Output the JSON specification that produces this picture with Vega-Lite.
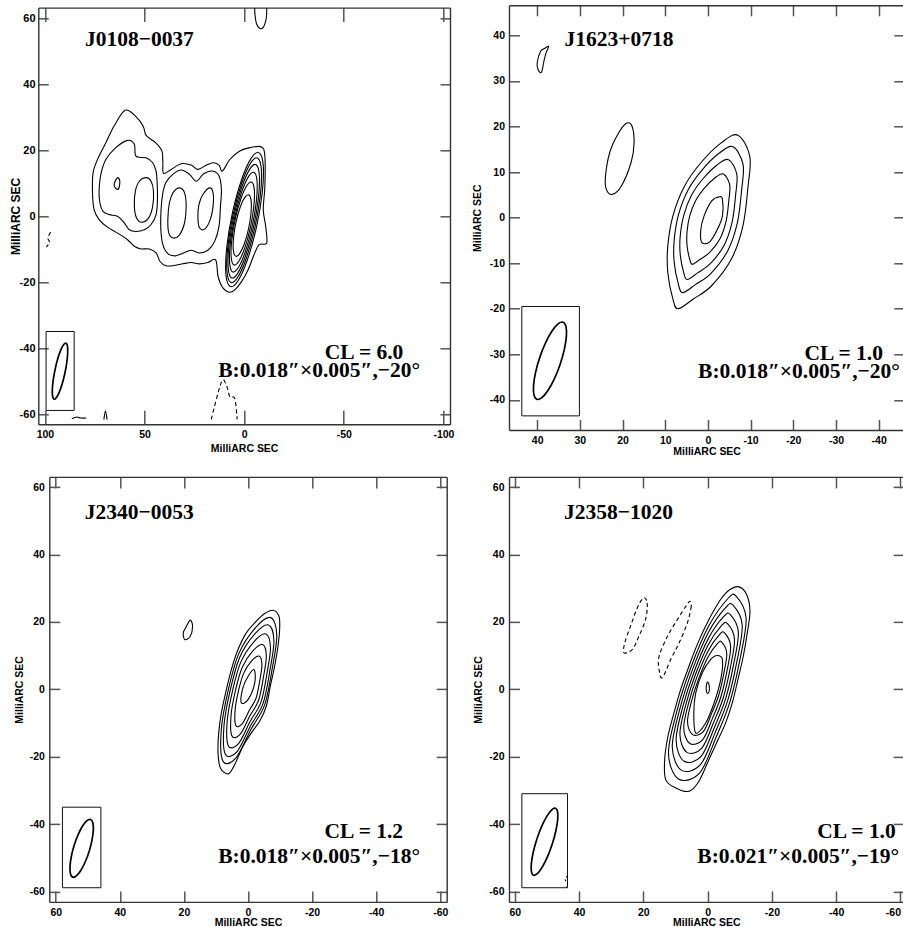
{
"$schema": "https://vega.github.io/schema/vega-lite/v6.json",
"background": "white",
"padding": {"left": 8.3, "top": 4.3, "right": 0, "bottom": 0},
"config": {
 "view": {"stroke": null},
 "axis": {"domainColor": "#333", "domainWidth": 1.4, "tickColor": "#555", "tickWidth": 1.5, "labelFont": "Liberation Sans", "labelFontWeight": "bold", "labelFontSize": 10.5, "labelColor": "#000", "titleFont": "Liberation Sans", "titleFontWeight": "bold", "titleFontSize": 10.5, "titleColor": "#000", "grid": false, "labelOverlap": false, "labelFlush": false}
},
"datasets": {
 "p1r": [
  {"c":"a","o":0,"x":59.7,"y":32.1},{"c":"a","o":1,"x":54.3,"y":30.2},{"c":"a","o":2,"x":50.6,"y":27.2},{"c":"a","o":3,"x":49.2,"y":24.5},{"c":"a","o":4,"x":44.5,"y":22.3},{"c":"a","o":5,"x":41.3,"y":19.8},{"c":"a","o":6,"x":40.8,"y":16.2},{"c":"a","o":7,"x":40.5,"y":13.0},{"c":"a","o":8,"x":36.6,"y":14.2},{"c":"a","o":9,"x":31.6,"y":15.9},{"c":"a","o":10,"x":26.6,"y":15.5},{"c":"a","o":11,"x":23.2,"y":14.2},{"c":"a","o":12,"x":19.0,"y":15.5},{"c":"a","o":13,"x":15.6,"y":16.2},{"c":"a","o":14,"x":12.6,"y":15.5},{"c":"a","o":15,"x":10.9,"y":13.7},{"c":"a","o":16,"x":7.2,"y":17.2},{"c":"a","o":17,"x":2.2,"y":19.8},{"c":"a","o":18,"x":-2.9,"y":20.8},{"c":"a","o":19,"x":-8.7,"y":21.0},{"c":"a","o":20,"x":-10.4,"y":18.2},{"c":"a","o":21,"x":-10.4,"y":9.1},{"c":"a","o":22,"x":-9.6,"y":2.0},{"c":"a","o":23,"x":-10.8,"y":-3.0},{"c":"a","o":24,"x":-11.3,"y":-8.1},{"c":"a","o":25,"x":-7.6,"y":-8.6},{"c":"a","o":26,"x":-4.9,"y":-11.7},{"c":"a","o":27,"x":-2.0,"y":-16.2},{"c":"a","o":28,"x":1.3,"y":-19.8},{"c":"a","o":29,"x":4.7,"y":-22.3},{"c":"a","o":30,"x":7.6,"y":-23.0},{"c":"a","o":31,"x":10.9,"y":-21.5},{"c":"a","o":32,"x":13.1,"y":-18.2},{"c":"a","o":33,"x":14.3,"y":-13.2},{"c":"a","o":34,"x":18.2,"y":-14.0},{"c":"a","o":35,"x":22.4,"y":-14.4},{"c":"a","o":36,"x":26.6,"y":-14.0},{"c":"a","o":37,"x":30.8,"y":-14.4},{"c":"a","o":38,"x":35.0,"y":-14.9},{"c":"a","o":39,"x":39.2,"y":-15.0},{"c":"a","o":40,"x":42.2,"y":-13.7},{"c":"a","o":41,"x":44.2,"y":-11.1},{"c":"a","o":42,"x":47.6,"y":-9.9},{"c":"a","o":43,"x":51.8,"y":-9.9},{"c":"a","o":44,"x":55.1,"y":-9.1},{"c":"a","o":45,"x":58.5,"y":-7.1},{"c":"a","o":46,"x":63.5,"y":-5.1},{"c":"a","o":47,"x":68.6,"y":-3.3},{"c":"a","o":48,"x":72.8,"y":-1.0},{"c":"a","o":49,"x":75.3,"y":2.0},{"c":"a","o":50,"x":76.1,"y":7.1},{"c":"a","o":51,"x":75.8,"y":13.2},{"c":"a","o":52,"x":73.6,"y":17.2},{"c":"a","o":53,"x":69.4,"y":22.3},{"c":"a","o":54,"x":65.2,"y":27.4},
  {"c":"b","o":0,"x":58.5,"y":23.0},{"c":"b","o":1,"x":55.1,"y":21.8},{"c":"b","o":2,"x":54.3,"y":18.2},{"c":"b","o":3,"x":49.2,"y":17.7},{"c":"b","o":4,"x":45.9,"y":16.2},{"c":"b","o":5,"x":44.2,"y":13.7},{"c":"b","o":6,"x":43.7,"y":10.6},{"c":"b","o":7,"x":43.5,"y":5.1},{"c":"b","o":8,"x":44.2,"y":0.5},{"c":"b","o":9,"x":46.7,"y":-2.5},{"c":"b","o":10,"x":50.1,"y":-4.1},{"c":"b","o":11,"x":54.3,"y":-4.6},{"c":"b","o":12,"x":57.6,"y":-4.1},{"c":"b","o":13,"x":60.2,"y":-2.0},{"c":"b","o":14,"x":63.5,"y":0.0},{"c":"b","o":15,"x":67.7,"y":0.5},{"c":"b","o":16,"x":70.8,"y":1.5},{"c":"b","o":17,"x":72.4,"y":4.1},{"c":"b","o":18,"x":72.8,"y":7.6},{"c":"b","o":19,"x":71.9,"y":12.7},{"c":"b","o":20,"x":69.4,"y":17.2},{"c":"b","o":21,"x":64.4,"y":20.8},
  {"c":"d","o":0,"x":49.2,"y":11.7},{"c":"d","o":1,"x":46.7,"y":10.6},{"c":"d","o":2,"x":45.5,"y":7.6},{"c":"d","o":3,"x":45.9,"y":3.0},{"c":"d","o":4,"x":47.9,"y":-0.5},{"c":"d","o":5,"x":51.3,"y":-1.8},{"c":"d","o":6,"x":54.0,"y":-0.5},{"c":"d","o":7,"x":55.1,"y":3.0},{"c":"d","o":8,"x":54.6,"y":7.6},{"c":"d","o":9,"x":52.6,"y":10.6},
  {"c":"e","o":0,"x":63.5,"y":11.7},{"c":"e","o":1,"x":62.4,"y":10.6},{"c":"e","o":2,"x":63.0,"y":8.3},{"c":"e","o":3,"x":64.7,"y":8.6},{"c":"e","o":4,"x":65.2,"y":9.9},
  {"c":"f","o":0,"x":39.2,"y":10.3},{"c":"f","o":1,"x":35.8,"y":12.7},{"c":"f","o":2,"x":31.6,"y":14.0},{"c":"f","o":3,"x":27.4,"y":12.7},{"c":"f","o":4,"x":24.0,"y":10.6},{"c":"f","o":5,"x":20.3,"y":12.9},{"c":"f","o":6,"x":16.0,"y":13.7},{"c":"f","o":7,"x":12.6,"y":12.2},{"c":"f","o":8,"x":11.4,"y":8.1},{"c":"f","o":9,"x":11.9,"y":3.0},{"c":"f","o":10,"x":12.6,"y":-3.0},{"c":"f","o":11,"x":14.8,"y":-7.6},{"c":"f","o":12,"x":18.2,"y":-10.3},{"c":"f","o":13,"x":22.7,"y":-11.1},{"c":"f","o":14,"x":26.6,"y":-10.3},{"c":"f","o":15,"x":30.4,"y":-11.1},{"c":"f","o":16,"x":34.5,"y":-12.0},{"c":"f","o":17,"x":38.3,"y":-11.3},{"c":"f","o":18,"x":40.8,"y":-8.6},{"c":"f","o":19,"x":41.8,"y":-4.1},{"c":"f","o":20,"x":41.7,"y":2.0},{"c":"f","o":21,"x":40.8,"y":7.1},
  {"c":"g","o":0,"x":32.4,"y":8.6},{"c":"g","o":1,"x":29.9,"y":7.1},{"c":"g","o":2,"x":29.1,"y":3.0},{"c":"g","o":3,"x":29.9,"y":-2.0},{"c":"g","o":4,"x":32.4,"y":-5.6},{"c":"g","o":5,"x":35.5,"y":-6.6},{"c":"g","o":6,"x":37.8,"y":-5.1},{"c":"g","o":7,"x":38.3,"y":-1.0},{"c":"g","o":8,"x":37.5,"y":4.1},{"c":"g","o":9,"x":35.5,"y":7.3},
  {"c":"h","o":0,"x":17.3,"y":8.6},{"c":"h","o":1,"x":15.6,"y":7.1},{"c":"h","o":2,"x":15.6,"y":3.0},{"c":"h","o":3,"x":17.0,"y":-1.0},{"c":"h","o":4,"x":19.8,"y":-3.9},{"c":"h","o":5,"x":22.4,"y":-3.5},{"c":"h","o":6,"x":23.2,"y":-0.5},{"c":"h","o":7,"x":22.7,"y":3.5},{"c":"h","o":8,"x":20.7,"y":6.6},
  {"c":"k2","o":0,"x":-7.55,"y":19.21},{"c":"k2","o":1,"x":-3.56,"y":17.60},{"c":"k2","o":2,"x":1.33,"y":11.00},{"c":"k2","o":3,"x":5.82,"y":1.19},{"c":"k2","o":4,"x":8.69,"y":-9.21},{"c":"k2","o":5,"x":9.18,"y":-17.41},{"c":"k2","o":6,"x":7.15,"y":-21.21},{"c":"k2","o":7,"x":3.16,"y":-19.60},{"c":"k2","o":8,"x":-1.73,"y":-13.00},{"c":"k2","o":9,"x":-6.22,"y":-3.19},{"c":"k2","o":10,"x":-9.09,"y":7.21},{"c":"k2","o":11,"x":-9.58,"y":15.41},
  {"c":"k3","o":0,"x":-6.84,"y":17.60},{"c":"k3","o":1,"x":-3.20,"y":16.07},{"c":"k3","o":2,"x":1.30,"y":9.92},{"c":"k3","o":3,"x":5.45,"y":0.78},{"c":"k3","o":4,"x":8.14,"y":-8.88},{"c":"k3","o":5,"x":8.65,"y":-16.49},{"c":"k3","o":6,"x":6.84,"y":-20.00},{"c":"k3","o":7,"x":3.20,"y":-18.47},{"c":"k3","o":8,"x":-1.30,"y":-12.32},{"c":"k3","o":9,"x":-5.45,"y":-3.18},{"c":"k3","o":10,"x":-8.14,"y":6.48},{"c":"k3","o":11,"x":-8.65,"y":14.09},
  {"c":"k4","o":0,"x":-6.02,"y":15.61},{"c":"k4","o":1,"x":-2.75,"y":14.21},{"c":"k4","o":2,"x":1.32,"y":8.59},{"c":"k4","o":3,"x":5.09,"y":0.28},{"c":"k4","o":4,"x":7.55,"y":-8.51},{"c":"k4","o":5,"x":8.03,"y":-15.43},{"c":"k4","o":6,"x":6.42,"y":-18.61},{"c":"k4","o":7,"x":3.15,"y":-17.21},{"c":"k4","o":8,"x":-0.92,"y":-11.59},{"c":"k4","o":9,"x":-4.69,"y":-3.28},{"c":"k4","o":10,"x":-7.15,"y":5.51},{"c":"k4","o":11,"x":-7.63,"y":12.43},
  {"c":"k5","o":0,"x":-5.07,"y":13.24},{"c":"k5","o":1,"x":-2.18,"y":12.01},{"c":"k5","o":2,"x":1.41,"y":7.08},{"c":"k5","o":3,"x":4.72,"y":-0.23},{"c":"k5","o":4,"x":6.88,"y":-7.96},{"c":"k5","o":5,"x":7.30,"y":-14.04},{"c":"k5","o":6,"x":5.87,"y":-16.84},{"c":"k5","o":7,"x":2.98,"y":-15.61},{"c":"k5","o":8,"x":-0.61,"y":-10.68},{"c":"k5","o":9,"x":-3.92,"y":-3.37},{"c":"k5","o":10,"x":-6.08,"y":4.36},{"c":"k5","o":11,"x":-6.50,"y":10.44},
  {"c":"k6","o":0,"x":-3.85,"y":10.30},{"c":"k6","o":1,"x":-1.36,"y":9.31},{"c":"k6","o":2,"x":1.68,"y":5.24},{"c":"k6","o":3,"x":4.46,"y":-0.83},{"c":"k6","o":4,"x":6.23,"y":-7.27},{"c":"k6","o":5,"x":6.52,"y":-12.34},{"c":"k6","o":6,"x":5.25,"y":-14.70},{"c":"k6","o":7,"x":2.76,"y":-13.71},{"c":"k6","o":8,"x":-0.28,"y":-9.64},{"c":"k6","o":9,"x":-3.06,"y":-3.57},{"c":"k6","o":10,"x":-4.83,"y":2.87},{"c":"k6","o":11,"x":-5.12,"y":7.94},
  {"c":"k7","o":0,"x":-2.42,"y":6.46},{"c":"k7","o":1,"x":-0.42,"y":5.78},{"c":"k7","o":2,"x":1.95,"y":2.81},{"c":"k7","o":3,"x":4.05,"y":-1.67},{"c":"k7","o":4,"x":5.32,"y":-6.45},{"c":"k7","o":5,"x":5.42,"y":-10.25},{"c":"k7","o":6,"x":4.32,"y":-12.06},{"c":"k7","o":7,"x":2.32,"y":-11.38},{"c":"k7","o":8,"x":-0.05,"y":-8.41},{"c":"k7","o":9,"x":-2.15,"y":-3.93},{"c":"k7","o":10,"x":-3.42,"y":0.85},{"c":"k7","o":11,"x":-3.52,"y":4.65}
 ],
 "p1a": [
  {"c":"u","o":0,"x":-5.3,"y":63.1},{"c":"u","o":1,"x":-5.4,"y":61.3},{"c":"u","o":2,"x":-6.2,"y":58.3},{"c":"u","o":3,"x":-7.9,"y":56.9},{"c":"u","o":4,"x":-9.6,"y":57.2},{"c":"u","o":5,"x":-10.9,"y":59.3},{"c":"u","o":6,"x":-11.3,"y":61.3},{"c":"u","o":7,"x":-11.3,"y":63.1},
  {"c":"s","o":0,"x":86.5,"y":-61.3},{"c":"s","o":1,"x":84.0,"y":-60.8},{"c":"s","o":2,"x":82.0,"y":-61.1},{"c":"s","o":3,"x":79.2,"y":-61.1},
  {"c":"v","o":0,"x":70.4,"y":-61.6},{"c":"v","o":1,"x":69.6,"y":-59.0},{"c":"v","o":2,"x":68.8,"y":-61.6}
 ],
 "p1n": [
  {"c":"l","o":0,"x":97.1,"y":-4.8},{"c":"l","o":1,"x":98.5,"y":-6.6},{"c":"l","o":2,"x":97.6,"y":-7.9},{"c":"l","o":3,"x":99.3,"y":-9.3},
  {"c":"w","o":0,"x":16.5,"y":-61.5},{"c":"w","o":1,"x":11.4,"y":-50.2},{"c":"w","o":2,"x":8.9,"y":-51.2},{"c":"w","o":3,"x":7.2,"y":-54.7},{"c":"w","o":4,"x":4.7,"y":-55.2},{"c":"w","o":5,"x":3.5,"y":-61.5}
 ],
 "p1b": [
  {"o":0,"x":89.32,"y":-38.44},{"o":1,"x":90.45,"y":-38.76},{"o":2,"x":91.88,"y":-40.32},{"o":3,"x":93.39,"y":-42.87},{"o":4,"x":94.75,"y":-46.05},{"o":5,"x":95.75,"y":-49.35},{"o":6,"x":96.24,"y":-52.28},{"o":7,"x":96.15,"y":-54.39},{"o":8,"x":95.48,"y":-55.36},{"o":9,"x":94.35,"y":-55.04},{"o":10,"x":92.92,"y":-53.49},{"o":11,"x":91.41,"y":-50.93},{"o":12,"x":90.05,"y":-47.76},{"o":13,"x":89.05,"y":-44.45},{"o":14,"x":88.56,"y":-41.52},{"o":15,"x":88.65,"y":-39.41}
 ],
 "p2r": [
  {"c":"c1","o":0,"x":-7.0,"y":18.1},{"c":"c1","o":1,"x":-9.8,"y":13.5},{"c":"c1","o":2,"x":-9.4,"y":6.9},{"c":"c1","o":3,"x":-8.2,"y":-1.8},{"c":"c1","o":4,"x":-5.5,"y":-9.1},{"c":"c1","o":5,"x":-0.8,"y":-15.0},{"c":"c1","o":6,"x":3.5,"y":-17.9},{"c":"c1","o":7,"x":7.0,"y":-20.0},{"c":"c1","o":8,"x":8.2,"y":-17.9},{"c":"c1","o":9,"x":9.4,"y":-12.1},{"c":"c1","o":10,"x":9.4,"y":-6.2},{"c":"c1","o":11,"x":8.2,"y":0.4},{"c":"c1","o":12,"x":5.5,"y":6.9},{"c":"c1","o":13,"x":1.6,"y":12.1},{"c":"c1","o":14,"x":-3.1,"y":16.4},
  {"c":"c2","o":0,"x":-5.88,"y":15.54},{"c":"c2","o":1,"x":-8.23,"y":11.68},{"c":"c2","o":2,"x":-7.90,"y":6.14},{"c":"c2","o":3,"x":-6.89,"y":-1.17},{"c":"c2","o":4,"x":-4.62,"y":-7.30},{"c":"c2","o":5,"x":-0.67,"y":-12.26},{"c":"c2","o":6,"x":2.94,"y":-14.70},{"c":"c2","o":7,"x":5.88,"y":-16.46},{"c":"c2","o":8,"x":6.89,"y":-14.70},{"c":"c2","o":9,"x":7.90,"y":-9.82},{"c":"c2","o":10,"x":7.90,"y":-4.87},{"c":"c2","o":11,"x":6.89,"y":0.68},{"c":"c2","o":12,"x":4.62,"y":6.14},{"c":"c2","o":13,"x":1.34,"y":10.50},{"c":"c2","o":14,"x":-2.60,"y":14.12},
  {"c":"c3","o":0,"x":-4.83,"y":12.73},{"c":"c3","o":1,"x":-6.76,"y":9.56},{"c":"c3","o":2,"x":-6.49,"y":5.00},{"c":"c3","o":3,"x":-5.66,"y":-1.00},{"c":"c3","o":4,"x":-3.80,"y":-6.04},{"c":"c3","o":5,"x":-0.55,"y":-10.11},{"c":"c3","o":6,"x":2.42,"y":-12.11},{"c":"c3","o":7,"x":4.83,"y":-13.56},{"c":"c3","o":8,"x":5.66,"y":-12.11},{"c":"c3","o":9,"x":6.49,"y":-8.11},{"c":"c3","o":10,"x":6.49,"y":-4.04},{"c":"c3","o":11,"x":5.66,"y":0.52},{"c":"c3","o":12,"x":3.80,"y":5.00},{"c":"c3","o":13,"x":1.10,"y":8.59},{"c":"c3","o":14,"x":-2.14,"y":11.56},
  {"c":"c4","o":0,"x":-3.64,"y":9.58},{"c":"c4","o":1,"x":-5.10,"y":7.19},{"c":"c4","o":2,"x":-4.89,"y":3.76},{"c":"c4","o":3,"x":-4.26,"y":-0.77},{"c":"c4","o":4,"x":-2.86,"y":-4.56},{"c":"c4","o":5,"x":-0.42,"y":-7.63},{"c":"c4","o":6,"x":1.82,"y":-9.14},{"c":"c4","o":7,"x":3.64,"y":-10.23},{"c":"c4","o":8,"x":4.26,"y":-9.14},{"c":"c4","o":9,"x":4.89,"y":-6.12},{"c":"c4","o":10,"x":4.89,"y":-3.05},{"c":"c4","o":11,"x":4.26,"y":0.38},{"c":"c4","o":12,"x":2.86,"y":3.76},{"c":"c4","o":13,"x":0.83,"y":6.46},{"c":"c4","o":14,"x":-1.61,"y":8.70},
  {"c":"c5","o":0,"x":-2.7,"y":4.6},{"c":"c5","o":1,"x":-3.4,"y":4.0},{"c":"c5","o":2,"x":-3.4,"y":0.4},{"c":"c5","o":3,"x":-2.2,"y":-2.6},{"c":"c5","o":4,"x":-0.4,"y":-5.3},{"c":"c5","o":5,"x":1.4,"y":-5.5},{"c":"c5","o":6,"x":1.7,"y":-2.9},{"c":"c5","o":7,"x":0.9,"y":0.4},{"c":"c5","o":8,"x":-0.9,"y":3.7},
  {"c":"e","o":0,"x":19.1,"y":20.7},{"c":"e","o":1,"x":17.8,"y":20.1},{"c":"e","o":2,"x":17.3,"y":16.4},{"c":"e","o":3,"x":18.0,"y":12.1},{"c":"e","o":4,"x":20.3,"y":6.9},{"c":"e","o":5,"x":22.4,"y":5.1},{"c":"e","o":6,"x":23.8,"y":6.2},{"c":"e","o":7,"x":24.0,"y":9.1},{"c":"e","o":8,"x":23.0,"y":14.3},{"c":"e","o":9,"x":21.1,"y":18.3},
  {"c":"t","o":0,"x":37.3,"y":37.6},{"c":"t","o":1,"x":37.9,"y":36.2},{"c":"t","o":2,"x":38.4,"y":34.4},{"c":"t","o":3,"x":39.0,"y":31.9},{"c":"t","o":4,"x":39.8,"y":32.5},{"c":"t","o":5,"x":40.0,"y":34.0},{"c":"t","o":6,"x":39.2,"y":36.5},{"c":"t","o":7,"x":38.3,"y":37.1}
 ],
 "p2b": [
  {"o":0,"x":33.92,"y":-22.94},{"o":1,"x":35.05,"y":-23.26},{"o":2,"x":36.48,"y":-24.82},{"o":3,"x":37.99,"y":-27.37},{"o":4,"x":39.35,"y":-30.55},{"o":5,"x":40.35,"y":-33.85},{"o":6,"x":40.84,"y":-36.78},{"o":7,"x":40.75,"y":-38.89},{"o":8,"x":40.08,"y":-39.86},{"o":9,"x":38.95,"y":-39.54},{"o":10,"x":37.52,"y":-37.99},{"o":11,"x":36.01,"y":-35.43},{"o":12,"x":34.65,"y":-32.26},{"o":13,"x":33.65,"y":-28.95},{"o":14,"x":33.16,"y":-26.02},{"o":15,"x":33.25,"y":-23.91}
 ],
 "p3r": [
  {"c":"c1","o":0,"x":-7.79,"y":23.44},{"c":"c1","o":1,"x":-9.66,"y":21.66},{"c":"c1","o":2,"x":-9.87,"y":17.71},{"c":"c1","o":3,"x":-9.35,"y":12.76},{"c":"c1","o":4,"x":-8.31,"y":6.82},{"c":"c1","o":5,"x":-6.96,"y":0.89},{"c":"c1","o":6,"x":-5.71,"y":-5.04},{"c":"c1","o":7,"x":-3.63,"y":-9.50},{"c":"c1","o":8,"x":-1.04,"y":-12.96},{"c":"c1","o":9,"x":1.56,"y":-16.91},{"c":"c1","o":10,"x":4.15,"y":-22.35},{"c":"c1","o":11,"x":6.13,"y":-25.12},{"c":"c1","o":12,"x":8.62,"y":-23.34},{"c":"c1","o":13,"x":9.35,"y":-18.89},{"c":"c1","o":14,"x":9.14,"y":-12.96},{"c":"c1","o":15,"x":8.31,"y":-7.02},{"c":"c1","o":16,"x":6.75,"y":-0.10},{"c":"c1","o":17,"x":5.19,"y":5.84},{"c":"c1","o":18,"x":3.12,"y":11.77},{"c":"c1","o":19,"x":0.52,"y":16.72},{"c":"c1","o":20,"x":-2.60,"y":20.18},{"c":"c1","o":21,"x":-5.19,"y":22.45},
  {"c":"c2","o":0,"x":-7.09,"y":21.25},{"c":"c2","o":1,"x":-8.98,"y":16.04},{"c":"c2","o":2,"x":-7.56,"y":6.13},{"c":"c2","o":3,"x":-5.20,"y":-4.66},{"c":"c2","o":4,"x":-0.95,"y":-11.87},{"c":"c2","o":5,"x":3.78,"y":-20.42},{"c":"c2","o":6,"x":7.84,"y":-21.32},{"c":"c2","o":7,"x":8.32,"y":-11.87},{"c":"c2","o":8,"x":6.14,"y":-0.17},{"c":"c2","o":9,"x":2.84,"y":10.63},{"c":"c2","o":10,"x":-2.37,"y":18.29},
  {"c":"c3","o":0,"x":-6.39,"y":19.07},{"c":"c3","o":1,"x":-8.09,"y":14.37},{"c":"c3","o":2,"x":-6.81,"y":5.44},{"c":"c3","o":3,"x":-4.68,"y":-4.29},{"c":"c3","o":4,"x":-0.85,"y":-10.78},{"c":"c3","o":5,"x":3.40,"y":-18.48},{"c":"c3","o":6,"x":7.07,"y":-19.29},{"c":"c3","o":7,"x":7.49,"y":-10.78},{"c":"c3","o":8,"x":5.54,"y":-0.24},{"c":"c3","o":9,"x":2.56,"y":9.50},{"c":"c3","o":10,"x":-2.13,"y":16.39},
  {"c":"c4","o":0,"x":-5.53,"y":16.40},{"c":"c4","o":1,"x":-7.01,"y":12.33},{"c":"c4","o":2,"x":-5.90,"y":4.60},{"c":"c4","o":3,"x":-4.05,"y":-3.82},{"c":"c4","o":4,"x":-0.74,"y":-9.45},{"c":"c4","o":5,"x":2.95,"y":-16.12},{"c":"c4","o":6,"x":6.12,"y":-16.82},{"c":"c4","o":7,"x":6.49,"y":-9.45},{"c":"c4","o":8,"x":4.79,"y":-0.32},{"c":"c4","o":9,"x":2.22,"y":8.11},{"c":"c4","o":10,"x":-1.85,"y":14.08},
  {"c":"c5","o":0,"x":-4.52,"y":13.24},{"c":"c5","o":1,"x":-5.72,"y":9.91},{"c":"c5","o":2,"x":-4.82,"y":3.60},{"c":"c5","o":3,"x":-3.31,"y":-3.28},{"c":"c5","o":4,"x":-0.60,"y":-7.87},{"c":"c5","o":5,"x":2.41,"y":-13.32},{"c":"c5","o":6,"x":5.00,"y":-13.89},{"c":"c5","o":7,"x":5.30,"y":-7.87},{"c":"c5","o":8,"x":3.92,"y":-0.42},{"c":"c5","o":9,"x":1.81,"y":6.47},{"c":"c5","o":10,"x":-1.51,"y":11.35},
  {"c":"c6","o":0,"x":-3.43,"y":9.84},{"c":"c6","o":1,"x":-4.34,"y":7.32},{"c":"c6","o":2,"x":-3.66,"y":2.52},{"c":"c6","o":3,"x":-2.51,"y":-2.69},{"c":"c6","o":4,"x":-0.46,"y":-6.18},{"c":"c6","o":5,"x":1.83,"y":-10.31},{"c":"c6","o":6,"x":3.79,"y":-10.75},{"c":"c6","o":7,"x":4.02,"y":-6.18},{"c":"c6","o":8,"x":2.97,"y":-0.52},{"c":"c6","o":9,"x":1.37,"y":4.70},{"c":"c6","o":10,"x":-1.14,"y":8.40},
  {"c":"c7","o":0,"x":-1.9,"y":5.8},{"c":"c7","o":1,"x":-2.1,"y":1.9},{"c":"c7","o":2,"x":0.0,"y":-3.1},{"c":"c7","o":3,"x":2.1,"y":-4.0},{"c":"c7","o":4,"x":1.6,"y":0.4},{"c":"c7","o":5,"x":0.0,"y":3.8},
  {"c":"t","o":0,"x":18.0,"y":20.5},{"c":"t","o":1,"x":17.3,"y":18.7},{"c":"t","o":2,"x":18.0,"y":15.7},{"c":"t","o":3,"x":19.7,"y":14.7},{"c":"t","o":4,"x":20.2,"y":16.7},{"c":"t","o":5,"x":19.2,"y":18.7}
 ],
 "p3b": [
  {"o":0,"x":49.12,"y":-38.64},{"o":1,"x":50.24,"y":-39.00},{"o":2,"x":51.62,"y":-40.60},{"o":3,"x":53.03,"y":-43.21},{"o":4,"x":54.28,"y":-46.43},{"o":5,"x":55.16,"y":-49.77},{"o":6,"x":55.55,"y":-52.71},{"o":7,"x":55.38,"y":-54.81},{"o":8,"x":54.68,"y":-55.76},{"o":9,"x":53.56,"y":-55.40},{"o":10,"x":52.18,"y":-53.80},{"o":11,"x":50.77,"y":-51.19},{"o":12,"x":49.52,"y":-47.97},{"o":13,"x":48.64,"y":-44.63},{"o":14,"x":48.25,"y":-41.69},{"o":15,"x":48.42,"y":-39.59}
 ],
 "p4r": [
  {"c":"c1","o":0,"x":-9.75,"y":30.37},{"c":"c1","o":1,"x":-12.13,"y":28.09},{"c":"c1","o":2,"x":-13.17,"y":23.15},{"c":"c1","o":3,"x":-12.34,"y":16.72},{"c":"c1","o":4,"x":-11.09,"y":9.79},{"c":"c1","o":5,"x":-9.43,"y":2.87},{"c":"c1","o":6,"x":-7.67,"y":-4.06},{"c":"c1","o":7,"x":-5.60,"y":-9.99},{"c":"c1","o":8,"x":-3.01,"y":-15.43},{"c":"c1","o":9,"x":-0.41,"y":-20.87},{"c":"c1","o":10,"x":2.70,"y":-27.30},{"c":"c1","o":11,"x":5.81,"y":-30.27},{"c":"c1","o":12,"x":9.95,"y":-29.28},{"c":"c1","o":13,"x":13.06,"y":-26.81},{"c":"c1","o":14,"x":13.37,"y":-20.87},{"c":"c1","o":15,"x":12.34,"y":-13.95},{"c":"c1","o":16,"x":10.47,"y":-7.02},{"c":"c1","o":17,"x":8.40,"y":-0.10},{"c":"c1","o":18,"x":5.81,"y":6.82},{"c":"c1","o":19,"x":3.01,"y":13.75},{"c":"c1","o":20,"x":-0.41,"y":20.67},{"c":"c1","o":21,"x":-4.04,"y":26.61},{"c":"c1","o":22,"x":-6.95,"y":29.58},
  {"c":"f1","o":0,"x":-8.85,"y":27.64},{"c":"f1","o":1,"x":-11.97,"y":21.07},{"c":"f1","o":2,"x":-10.07,"y":8.91},{"c":"f1","o":3,"x":-6.96,"y":-3.69},{"c":"f1","o":4,"x":-2.72,"y":-14.04},{"c":"f1","o":5,"x":2.48,"y":-24.84},{"c":"f1","o":6,"x":9.07,"y":-26.64},{"c":"f1","o":7,"x":12.18,"y":-18.99},{"c":"f1","o":8,"x":9.55,"y":-6.39},{"c":"f1","o":9,"x":5.31,"y":6.21},{"c":"f1","o":10,"x":-0.36,"y":18.81},{"c":"f1","o":11,"x":-6.31,"y":26.92},
  {"c":"f2","o":0,"x":-7.96,"y":24.90},{"c":"f2","o":1,"x":-10.76,"y":18.98},{"c":"f2","o":2,"x":-9.06,"y":8.03},{"c":"f2","o":3,"x":-6.25,"y":-3.33},{"c":"f2","o":4,"x":-2.43,"y":-12.65},{"c":"f2","o":5,"x":2.25,"y":-22.39},{"c":"f2","o":6,"x":8.20,"y":-24.01},{"c":"f2","o":7,"x":11.00,"y":-17.11},{"c":"f2","o":8,"x":8.62,"y":-5.76},{"c":"f2","o":9,"x":4.80,"y":5.59},{"c":"f2","o":10,"x":-0.30,"y":16.95},{"c":"f2","o":11,"x":-5.66,"y":24.26},
  {"c":"f3","o":0,"x":-7.06,"y":22.17},{"c":"f3","o":1,"x":-9.56,"y":16.90},{"c":"f3","o":2,"x":-8.04,"y":7.15},{"c":"f3","o":3,"x":-5.55,"y":-2.96},{"c":"f3","o":4,"x":-2.14,"y":-11.26},{"c":"f3","o":5,"x":2.03,"y":-19.93},{"c":"f3","o":6,"x":7.32,"y":-21.37},{"c":"f3","o":7,"x":9.81,"y":-15.24},{"c":"f3","o":8,"x":7.70,"y":-5.12},{"c":"f3","o":9,"x":4.30,"y":4.98},{"c":"f3","o":10,"x":-0.25,"y":15.09},{"c":"f3","o":11,"x":-5.02,"y":21.59},
  {"c":"f4","o":0,"x":-6.17,"y":19.44},{"c":"f4","o":1,"x":-8.36,"y":14.82},{"c":"f4","o":2,"x":-7.03,"y":6.27},{"c":"f4","o":3,"x":-4.84,"y":-2.60},{"c":"f4","o":4,"x":-1.85,"y":-9.88},{"c":"f4","o":5,"x":1.80,"y":-17.47},{"c":"f4","o":6,"x":6.44,"y":-18.74},{"c":"f4","o":7,"x":8.63,"y":-13.36},{"c":"f4","o":8,"x":6.77,"y":-4.49},{"c":"f4","o":9,"x":3.79,"y":4.36},{"c":"f4","o":10,"x":-0.19,"y":13.23},{"c":"f4","o":11,"x":-4.38,"y":18.93},
  {"c":"f5","o":0,"x":-5.27,"y":16.70},{"c":"f5","o":1,"x":-7.15,"y":12.73},{"c":"f5","o":2,"x":-6.01,"y":5.38},{"c":"f5","o":3,"x":-4.13,"y":-2.23},{"c":"f5","o":4,"x":-1.57,"y":-8.49},{"c":"f5","o":5,"x":1.58,"y":-15.02},{"c":"f5","o":6,"x":5.56,"y":-16.10},{"c":"f5","o":7,"x":7.44,"y":-11.48},{"c":"f5","o":8,"x":5.85,"y":-3.86},{"c":"f5","o":9,"x":3.29,"y":3.75},{"c":"f5","o":10,"x":-0.14,"y":11.37},{"c":"f5","o":11,"x":-3.73,"y":16.27},
  {"c":"f6","o":0,"x":-4.38,"y":13.97},{"c":"f6","o":1,"x":-5.95,"y":10.65},{"c":"f6","o":2,"x":-4.99,"y":4.50},{"c":"f6","o":3,"x":-3.42,"y":-1.87},{"c":"f6","o":4,"x":-1.28,"y":-7.10},{"c":"f6","o":5,"x":1.35,"y":-12.56},{"c":"f6","o":6,"x":4.69,"y":-13.47},{"c":"f6","o":7,"x":6.26,"y":-9.60},{"c":"f6","o":8,"x":4.92,"y":-3.23},{"c":"f6","o":9,"x":2.78,"y":3.14},{"c":"f6","o":10,"x":-0.08,"y":9.51},{"c":"f6","o":11,"x":-3.09,"y":13.61},
  {"c":"hx","o":0,"x":-3.0,"y":10.0},{"c":"hx","o":1,"x":-4.6,"y":8.8},{"c":"hx","o":2,"x":-4.1,"y":3.0},{"c":"hx","o":3,"x":-2.0,"y":-4.1},{"c":"hx","o":4,"x":0.6,"y":-10.0},{"c":"hx","o":5,"x":3.7,"y":-13.0},{"c":"hx","o":6,"x":4.3,"y":-7.0},{"c":"hx","o":7,"x":3.7,"y":-1.1},{"c":"hx","o":8,"x":1.7,"y":4.8},{"c":"hx","o":9,"x":-0.9,"y":8.8},
  {"c":"cc","o":0,"x":0.0,"y":2.1},{"c":"cc","o":1,"x":-0.5,"y":1.0},{"c":"cc","o":2,"x":-0.5,"y":-0.5},{"c":"cc","o":3,"x":0.0,"y":-1.3},{"c":"cc","o":4,"x":0.4,"y":-0.5},{"c":"cc","o":5,"x":0.4,"y":1.0}
 ],
 "p4n": [
  {"c":"dl","o":0,"x":20.0,"y":27.1},{"c":"dl","o":1,"x":18.8,"y":25.6},{"c":"dl","o":2,"x":19.3,"y":20.7},{"c":"dl","o":3,"x":21.4,"y":15.7},{"c":"dl","o":4,"x":23.4,"y":11.8},{"c":"dl","o":5,"x":26.0,"y":10.8},{"c":"dl","o":6,"x":25.8,"y":13.7},{"c":"dl","o":7,"x":24.0,"y":18.7},{"c":"dl","o":8,"x":21.9,"y":24.1},
  {"c":"dr","o":0,"x":5.5,"y":26.1},{"c":"dr","o":1,"x":5.1,"y":24.6},{"c":"dr","o":2,"x":6.3,"y":19.7},{"c":"dr","o":3,"x":8.9,"y":13.7},{"c":"dr","o":4,"x":11.5,"y":8.8},{"c":"dr","o":5,"x":14.1,"y":3.4},{"c":"dr","o":6,"x":15.1,"y":5.8},{"c":"dr","o":7,"x":15.1,"y":9.8},{"c":"dr","o":8,"x":12.5,"y":15.7},{"c":"dr","o":9,"x":9.4,"y":20.7},{"c":"dr","o":10,"x":6.8,"y":24.6}
 ],
 "p4na": [
  {"c":"q","o":0,"x":43.6,"y":-55.4},{"c":"q","o":1,"x":44.3,"y":-56.5},{"c":"q","o":2,"x":43.6,"y":-57.5},{"c":"q","o":3,"x":44.0,"y":-58.9}
 ],
 "p4b": [
  {"o":0,"x":47.33,"y":-35.32},{"o":1,"x":48.50,"y":-35.76},{"o":2,"x":50.00,"y":-37.65},{"o":3,"x":51.63,"y":-40.69},{"o":4,"x":53.12,"y":-44.44},{"o":5,"x":54.25,"y":-48.30},{"o":6,"x":54.84,"y":-51.70},{"o":7,"x":54.82,"y":-54.11},{"o":8,"x":54.17,"y":-55.18},{"o":9,"x":53.00,"y":-54.74},{"o":10,"x":51.50,"y":-52.85},{"o":11,"x":49.88,"y":-49.81},{"o":12,"x":48.39,"y":-46.07},{"o":13,"x":47.26,"y":-42.20},{"o":14,"x":46.66,"y":-38.81},{"o":15,"x":46.68,"y":-36.39}
 ]
},
"bounds": "flush",
"columns": 2,
"align": {"row": "all", "column": "none"},
"spacing": {"row": 46.6, "column": 57.7},
"concat": [
   {
    "width": 411.7, "height": 419,
    "resolve": {"axis": {"x": "independent", "y": "independent"}},
    "layer": [
     {
      "data": {"values": [{"x": 99.4, "x2": 85.3, "y": -34.9, "y2": -58.8}]},
      "mark": {"type": "rect", "filled": false, "color": "#111", "strokeWidth": 1},
      "encoding": {
       "x": {"field": "x", "type": "quantitative", "scale": {"domain": [103.3, -103.3], "nice": false, "zero": false}, "axis": {"orient": "bottom", "values": [100, 50, 0, -50, -100], "title": "MilliARC SEC", "tickSize": -14, "labelPadding": 19.5, "titlePadding": 3, "labelExpr": "replace(datum.label, '\u2212', '-')"}},
       "x2": {"field": "x2"},
       "y": {"field": "y", "type": "quantitative", "scale": {"domain": [-63.0, 63.2], "range": [419, 2.3], "nice": false, "zero": false}, "axis": {"orient": "left", "values": [60, 40, 20, 0, -20, -40, -60], "title": "MilliARC SEC", "tickSize": -10, "labelPadding": 13.3, "labelFont": "Liberation Sans Narrow, Liberation Sans", "labelFontSize": 11, "titleFontSize": 12, "titlePadding": -3, "labelExpr": "replace(datum.label, '\u2212', '-')"}},
       "y2": {"field": "y2"}
      }
     },
     {
      "data": {"name": "p1r"},
      "mark": {"type": "line", "interpolate": "cardinal-closed", "color": "#000", "strokeWidth": 1.1},
      "encoding": {
       "x": {"field": "x", "type": "quantitative", "scale": {"domain": [103.3, -103.3], "nice": false, "zero": false}, "axis": {"orient": "top", "values": [100, 50, 0, -50, -100], "labels": false, "title": null, "tickSize": -14, "offset": -2.3}},
       "y": {"field": "y", "type": "quantitative", "scale": {"domain": [-63.0, 63.2], "range": [419, 2.3], "nice": false, "zero": false}, "axis": {"orient": "right", "values": [60, 40, 20, 0, -20, -40, -60], "labels": false, "title": null, "tickSize": -10}},
       "detail": {"field": "c"},
       "order": {"field": "o", "type": "quantitative"}
      }
     },
     {
      "data": {"name": "p1a"},
      "mark": {"type": "line", "interpolate": "cardinal", "color": "#000", "strokeWidth": 1.1},
      "encoding": {
       "x": {"field": "x", "type": "quantitative", "scale": {"domain": [103.3, -103.3], "nice": false, "zero": false}, "axis": null},
       "y": {"field": "y", "type": "quantitative", "scale": {"domain": [-63.0, 63.2], "range": [419, 2.3], "nice": false, "zero": false}, "axis": null},
       "detail": {"field": "c"},
       "order": {"field": "o", "type": "quantitative"}
      }
     },
     {
      "data": {"name": "p1n"},
      "mark": {"type": "line", "interpolate": "cardinal", "color": "#000", "strokeWidth": 1.1, "strokeDash": [4, 3]},
      "encoding": {
       "x": {"field": "x", "type": "quantitative", "scale": {"domain": [103.3, -103.3], "nice": false, "zero": false}, "axis": null},
       "y": {"field": "y", "type": "quantitative", "scale": {"domain": [-63.0, 63.2], "range": [419, 2.3], "nice": false, "zero": false}, "axis": null},
       "detail": {"field": "c"},
       "order": {"field": "o", "type": "quantitative"}
      }
     },
     {
      "data": {"name": "p1b"},
      "mark": {"type": "line", "interpolate": "cardinal-closed", "color": "#000", "strokeWidth": 1.7},
      "encoding": {
       "x": {"field": "x", "type": "quantitative", "scale": {"domain": [103.3, -103.3], "nice": false, "zero": false}, "axis": null},
       "y": {"field": "y", "type": "quantitative", "scale": {"domain": [-63.0, 63.2], "range": [419, 2.3], "nice": false, "zero": false}, "axis": null},
       "order": {"field": "o", "type": "quantitative"}
      }
     },
     {
      "data": {"values": [{"x": 79.9, "y": 51.6, "t": "J0108−0037"}, {"x": -40.5, "y": -43.3, "t": "CL = 6.0"}, {"x": 13.0, "y": -48.8, "t": "B:0.018″×0.005″,−20°"}]},
      "mark": {"type": "text", "font": "Liberation Serif", "fontWeight": "bold", "fontSize": 21.5, "align": "left", "baseline": "alphabetic", "color": "#000"},
      "encoding": {
       "x": {"field": "x", "type": "quantitative", "scale": {"domain": [103.3, -103.3], "nice": false, "zero": false}, "axis": null},
       "y": {"field": "y", "type": "quantitative", "scale": {"domain": [-63.0, 63.2], "range": [419, 2.3], "nice": false, "zero": false}, "axis": null},
       "text": {"field": "t"}
      }
     }
    ]
   },
   {
    "width": 395.3, "height": 424.7,
    "resolve": {"axis": {"x": "independent", "y": "independent"}},
    "layer": [
     {
      "data": {"values": [{"x": 43.6, "x2": 30.1, "y": -19.5, "y2": -43.5}]},
      "mark": {"type": "rect", "filled": false, "color": "#111", "strokeWidth": 1},
      "encoding": {
       "x": {"field": "x", "type": "quantitative", "scale": {"domain": [46.6, -46.0], "nice": false, "zero": false}, "axis": {"orient": "bottom", "values": [40, 30, 20, 10, 0, -10, -20, -30, -40], "title": "MilliARC SEC", "tickSize": -10.5, "labelPadding": 16.5, "titlePadding": 0, "labelExpr": "replace(datum.label, '\u2212', '-')"}},
       "x2": {"field": "x2"},
       "y": {"field": "y", "type": "quantitative", "scale": {"domain": [-46.6, 46.6], "nice": false, "zero": false}, "axis": {"orient": "left", "values": [40, 30, 20, 10, 0, -10, -20, -30, -40], "title": "MilliARC SEC", "tickSize": -10.5, "labelPadding": 15, "titlePadding": 7, "labelExpr": "replace(datum.label, '\u2212', '-')"}},
       "y2": {"field": "y2"}
      }
     },
     {
      "data": {"name": "p2r"},
      "mark": {"type": "line", "interpolate": "cardinal-closed", "color": "#000", "strokeWidth": 1.1},
      "encoding": {
       "x": {"field": "x", "type": "quantitative", "scale": {"domain": [46.6, -46.0], "nice": false, "zero": false}, "axis": {"orient": "top", "values": [40, 30, 20, 10, 0, -10, -20, -30, -40], "labels": false, "title": null, "tickSize": -10.5}},
       "y": {"field": "y", "type": "quantitative", "scale": {"domain": [-46.6, 46.6], "nice": false, "zero": false}, "axis": {"orient": "right", "values": [40, 30, 20, 10, 0, -10, -20, -30, -40], "labels": false, "title": null, "tickSize": -10.5}},
       "detail": {"field": "c"},
       "order": {"field": "o", "type": "quantitative"}
      }
     },
     {
      "data": {"name": "p2b"},
      "mark": {"type": "line", "interpolate": "cardinal-closed", "color": "#000", "strokeWidth": 1.7},
      "encoding": {
       "x": {"field": "x", "type": "quantitative", "scale": {"domain": [46.6, -46.0], "nice": false, "zero": false}, "axis": null},
       "y": {"field": "y", "type": "quantitative", "scale": {"domain": [-46.6, 46.6], "nice": false, "zero": false}, "axis": null},
       "order": {"field": "o", "type": "quantitative"}
      }
     },
     {
      "data": {"values": [{"x": 33.6, "y": 37.6, "t": "J1623+0718"}, {"x": -22.6, "y": -31.2, "t": "CL = 1.0"}, {"x": 2.3, "y": -35.1, "t": "B:0.018″×0.005″,−20°"}]},
      "mark": {"type": "text", "font": "Liberation Serif", "fontWeight": "bold", "fontSize": 21.5, "align": "left", "baseline": "alphabetic", "color": "#000"},
      "encoding": {
       "x": {"field": "x", "type": "quantitative", "scale": {"domain": [46.6, -46.0], "nice": false, "zero": false}, "axis": null},
       "y": {"field": "y", "type": "quantitative", "scale": {"domain": [-46.6, 46.6], "nice": false, "zero": false}, "axis": null},
       "text": {"field": "t"}
      }
     }
    ]
   },
   {
    "width": 412.3, "height": 425,
    "resolve": {"axis": {"x": "independent", "y": "independent"}},
    "layer": [
     {
      "data": {"values": [{"x": 57.9, "x2": 45.9, "y": -35.0, "y2": -58.9}]},
      "mark": {"type": "rect", "filled": false, "color": "#111", "strokeWidth": 1},
      "encoding": {
       "x": {"field": "x", "type": "quantitative", "scale": {"domain": [62, -62], "range": [11, 408.4], "nice": false, "zero": false}, "axis": {"orient": "bottom", "values": [60, 40, 20, 0, -20, -40, -60], "title": "MilliARC SEC", "tickSize": -11, "labelPadding": 16.5, "titlePadding": 0, "labelExpr": "replace(datum.label, '\u2212', '-')"}},
       "x2": {"field": "x2"},
       "y": {"field": "y", "type": "quantitative", "scale": {"domain": [-63.1, 63.0], "nice": false, "zero": false}, "axis": {"orient": "left", "offset": -11, "values": [60, 40, 20, 0, -20, -40, -60], "title": "MilliARC SEC", "tickSize": -10.5, "labelPadding": 15.5, "titlePadding": 5, "labelExpr": "replace(datum.label, '\u2212', '-')"}},
       "y2": {"field": "y2"}
      }
     },
     {
      "data": {"name": "p3r"},
      "mark": {"type": "line", "interpolate": "cardinal-closed", "color": "#000", "strokeWidth": 1.1},
      "encoding": {
       "x": {"field": "x", "type": "quantitative", "scale": {"domain": [62, -62], "range": [11, 408.4], "nice": false, "zero": false}, "axis": {"orient": "top", "values": [60, 40, 20, 0, -20, -40, -60], "labels": false, "title": null, "tickSize": -11}},
       "y": {"field": "y", "type": "quantitative", "scale": {"domain": [-63.1, 63.0], "nice": false, "zero": false}, "axis": {"orient": "right", "offset": -3.9, "values": [60, 40, 20, 0, -20, -40, -60], "labels": false, "title": null, "tickSize": -10.5}},
       "detail": {"field": "c"},
       "order": {"field": "o", "type": "quantitative"}
      }
     },
     {
      "data": {"name": "p3b"},
      "mark": {"type": "line", "interpolate": "cardinal-closed", "color": "#000", "strokeWidth": 1.7},
      "encoding": {
       "x": {"field": "x", "type": "quantitative", "scale": {"domain": [62, -62], "range": [11, 408.4], "nice": false, "zero": false}, "axis": null},
       "y": {"field": "y", "type": "quantitative", "scale": {"domain": [-63.1, 63.0], "nice": false, "zero": false}, "axis": null},
       "order": {"field": "o", "type": "quantitative"}
      }
     },
     {
      "data": {"values": [{"x": 50.9, "y": 50.4, "t": "J2340−0053"}, {"x": -23.9, "y": -44.1, "t": "CL = 1.2"}, {"x": 9.3, "y": -51.7, "t": "B:0.018″×0.005″,−18°"}]},
      "mark": {"type": "text", "font": "Liberation Serif", "fontWeight": "bold", "fontSize": 21.5, "align": "left", "baseline": "alphabetic", "color": "#000"},
      "encoding": {
       "x": {"field": "x", "type": "quantitative", "scale": {"domain": [62, -62], "range": [11, 408.4], "nice": false, "zero": false}, "axis": null},
       "y": {"field": "y", "type": "quantitative", "scale": {"domain": [-63.1, 63.0], "nice": false, "zero": false}, "axis": null},
       "text": {"field": "t"}
      }
     }
    ]
   },
   {
    "width": 394.7, "height": 425,
    "resolve": {"axis": {"x": "independent", "y": "independent"}},
    "layer": [
     {
      "data": {"values": [{"x": 57.8, "x2": 43.6, "y": -31.0, "y2": -58.9}]},
      "mark": {"type": "rect", "filled": false, "color": "#111", "strokeWidth": 1},
      "encoding": {
       "x": {"field": "x", "type": "quantitative", "scale": {"domain": [61.8, -61.0], "nice": false, "zero": false}, "axis": {"orient": "bottom", "values": [60, 40, 20, 0, -20, -40, -60], "title": "MilliARC SEC", "tickSize": -11, "labelPadding": 16.5, "titlePadding": 0, "labelFlush": 5, "labelExpr": "replace(datum.label, '\u2212', '-')"}},
       "x2": {"field": "x2"},
       "y": {"field": "y", "type": "quantitative", "scale": {"domain": [-63.1, 63.0], "nice": false, "zero": false}, "axis": {"orient": "left", "values": [60, 40, 20, 0, -20, -40, -60], "title": "MilliARC SEC", "tickSize": -10.5, "labelPadding": 15.5, "titlePadding": 5, "labelExpr": "replace(datum.label, '\u2212', '-')"}},
       "y2": {"field": "y2"}
      }
     },
     {
      "data": {"name": "p4r"},
      "mark": {"type": "line", "interpolate": "cardinal-closed", "color": "#000", "strokeWidth": 1.1},
      "encoding": {
       "x": {"field": "x", "type": "quantitative", "scale": {"domain": [61.8, -61.0], "nice": false, "zero": false}, "axis": {"orient": "top", "values": [60, 40, 20, 0, -20, -40, -60], "labels": false, "title": null, "tickSize": -11}},
       "y": {"field": "y", "type": "quantitative", "scale": {"domain": [-63.1, 63.0], "nice": false, "zero": false}, "axis": {"orient": "right", "values": [60, 40, 20, 0, -20, -40, -60], "labels": false, "title": null, "tickSize": -10.5}},
       "detail": {"field": "c"},
       "order": {"field": "o", "type": "quantitative"}
      }
     },
     {
      "data": {"name": "p4n"},
      "mark": {"type": "line", "interpolate": "cardinal-closed", "color": "#000", "strokeWidth": 1.1, "strokeDash": [4, 3]},
      "encoding": {
       "x": {"field": "x", "type": "quantitative", "scale": {"domain": [61.8, -61.0], "nice": false, "zero": false}, "axis": null},
       "y": {"field": "y", "type": "quantitative", "scale": {"domain": [-63.1, 63.0], "nice": false, "zero": false}, "axis": null},
       "detail": {"field": "c"},
       "order": {"field": "o", "type": "quantitative"}
      }
     },
     {
      "data": {"name": "p4na"},
      "mark": {"type": "line", "interpolate": "cardinal", "color": "#000", "strokeWidth": 1.1, "strokeDash": [2, 2]},
      "encoding": {
       "x": {"field": "x", "type": "quantitative", "scale": {"domain": [61.8, -61.0], "nice": false, "zero": false}, "axis": null},
       "y": {"field": "y", "type": "quantitative", "scale": {"domain": [-63.1, 63.0], "nice": false, "zero": false}, "axis": null},
       "detail": {"field": "c"},
       "order": {"field": "o", "type": "quantitative"}
      }
     },
     {
      "data": {"name": "p4b"},
      "mark": {"type": "line", "interpolate": "cardinal-closed", "color": "#000", "strokeWidth": 1.7},
      "encoding": {
       "x": {"field": "x", "type": "quantitative", "scale": {"domain": [61.8, -61.0], "nice": false, "zero": false}, "axis": null},
       "y": {"field": "y", "type": "quantitative", "scale": {"domain": [-63.1, 63.0], "nice": false, "zero": false}, "axis": null},
       "order": {"field": "o", "type": "quantitative"}
      }
     },
     {
      "data": {"values": [{"x": 44.7, "y": 50.4, "t": "J2358−1020"}, {"x": -34.1, "y": -44.1, "t": "CL = 1.0"}, {"x": 3.2, "y": -51.7, "t": "B:0.021″×0.005″,−19°"}]},
      "mark": {"type": "text", "font": "Liberation Serif", "fontWeight": "bold", "fontSize": 21.5, "align": "left", "baseline": "alphabetic", "color": "#000"},
      "encoding": {
       "x": {"field": "x", "type": "quantitative", "scale": {"domain": [61.8, -61.0], "nice": false, "zero": false}, "axis": null},
       "y": {"field": "y", "type": "quantitative", "scale": {"domain": [-63.1, 63.0], "nice": false, "zero": false}, "axis": null},
       "text": {"field": "t"}
      }
     }
    ]
   }
]
}
